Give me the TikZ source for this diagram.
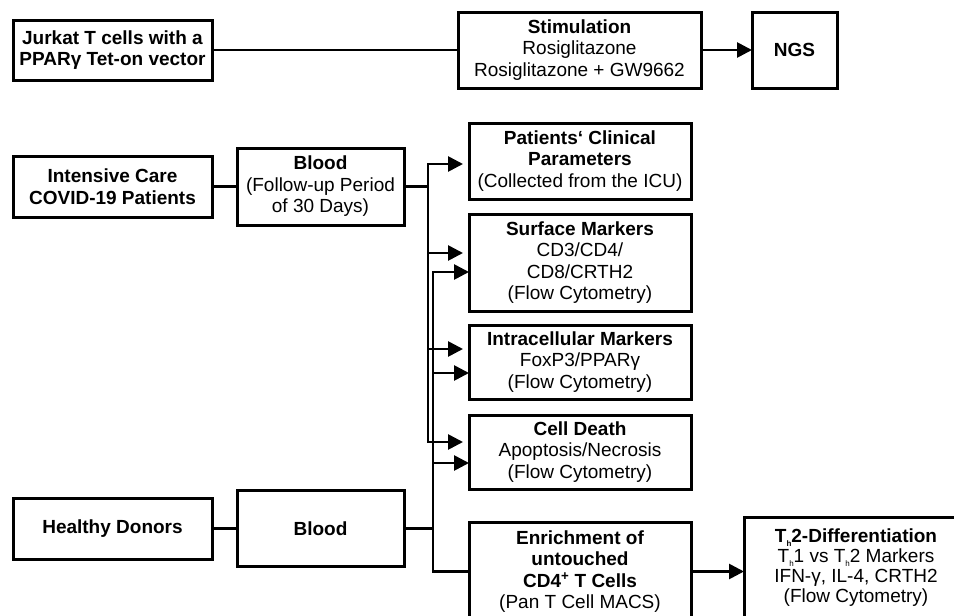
\documentclass[tikz,border=0pt]{standalone}
\usepackage{fontspec}
\setmainfont{Liberation Sans}
\usetikzlibrary{positioning,arrows.meta,calc}
\newcommand{\thsub}{\raisebox{-0.2em}{\fontsize{8}{8}\selectfont h}}

\begin{document}
\begin{tikzpicture}[
    x=1pt, y=-1pt,
    node distance=15pt,
    block/.style={draw=black, line width=3pt, fill=white, align=center, inner sep=0pt, outer sep=0pt, font=\fontsize{19}{21.5}\selectfont},
    result/.style={block, minimum width=222pt},
    line/.style={line width=2.7pt, draw=black},
    arr/.style={line, -{Triangle[length=15pt, width=15pt]}},
    short/.style={shorten >=6pt}
]
    \useasboundingbox (0,0) rectangle (954,616);

    % Jurkat experiment
    \node[block, minimum width=199pt, minimum height=60pt] (jurkat) at (112.5,50) {\textbf{Jurkat T cells with a}\\\textbf{PPARγ Tet-on vector}};
    \node[block, minimum width=243pt, minimum height=76pt] (stim) at (579.5,50) {\textbf{Stimulation}\\Rosiglitazone\\Rosiglitazone + GW9662};
    \node[block, minimum width=85pt, minimum height=76pt, right=51pt of stim] (ngs) {\textbf{NGS}};

    % Sources
    \node[block, minimum width=199pt, minimum height=61pt] (icu) at (112.5,186.5) {\textbf{Intensive Care}\\\textbf{COVID-19 Patients}};
    \node[block, minimum width=167pt, minimum height=77pt, right=25pt of icu] (blood1) {\textbf{Blood}\\(Follow-up Period\\of 30 Days)};
    \node[block, minimum width=199pt, minimum height=61pt] (healthy) at (112.5,528.5) {\textbf{Healthy Donors}};
    \node[block, minimum width=167pt, minimum height=76pt, right=25pt of healthy] (blood2) {\textbf{Blood}};

    % Readouts
    \node[result, minimum height=76pt] (patients) at (580,161) {\textbf{Patients‘ Clinical}\\\textbf{Parameters}\\(Collected from the ICU)};
    \node[result, minimum height=97pt, below=15pt of patients] (surface) {\textbf{Surface Markers}\\CD3/CD4/\\CD8/CRTH2\\(Flow Cytometry)};
    \node[result, minimum height=74pt, below=14pt of surface] (intra) {\textbf{Intracellular Markers}\\FoxP3/PPARγ\\(Flow Cytometry)};
    \node[result, minimum height=74pt, below=16pt of intra] (death) {\textbf{Cell Death}\\Apoptosis/Necrosis\\(Flow Cytometry)};
    \node[result, minimum height=99pt, below=33pt of death] (enrich) {\textbf{Enrichment of}\\\textbf{untouched}\\\textbf{CD4\textsuperscript{+} T Cells}\\(Pan T Cell MACS)};
    \node[block, minimum width=224pt, minimum height=102pt, right=53pt of enrich, yshift=3.5pt, font=\fontsize{19}{20}\selectfont] (th2) {\textbf{T\thsub 2-Differentiation}\\T\thsub 1 vs T\thsub 2 Markers\\IFN-γ, IL-4, CRTH2\\(Flow Cytometry)};

    % Connections
    \draw[line] (jurkat) -- (stim);
    \draw[arr] (stim) -- (ngs);
    \draw[line] (icu) -- (blood1);
    \draw[line] (healthy) -- (blood2);
    \draw[line] (blood1.east) -- ++(24,0) coordinate (icuhub);
    \draw[line] (blood2.east) -- ++(29,0) coordinate (hdhub);

    % ICU branches
    \draw[arr, short] (icuhub) |- ([yshift=-3pt]patients.west);
    \draw[arr, short] (icuhub) |- ([yshift=9.5pt]surface.west);
    \draw[arr, short] (icuhub) |- ([yshift=13pt]intra.west);
    \draw[arr, short] (icuhub) |- ([yshift=10pt]death.west);

    % Healthy donor branches
    \draw[arr] (hdhub) |- ([yshift=-9.5pt]surface.west);
    \draw[arr] (hdhub) |- ([yshift=-11pt]intra.west);
    \draw[arr] (hdhub) |- ([yshift=-11pt]death.west);
    \draw[line] (hdhub) |- (enrich.west);
    \draw[arr] (enrich) -- (enrich -| th2.west);
\end{tikzpicture}
\end{document}
